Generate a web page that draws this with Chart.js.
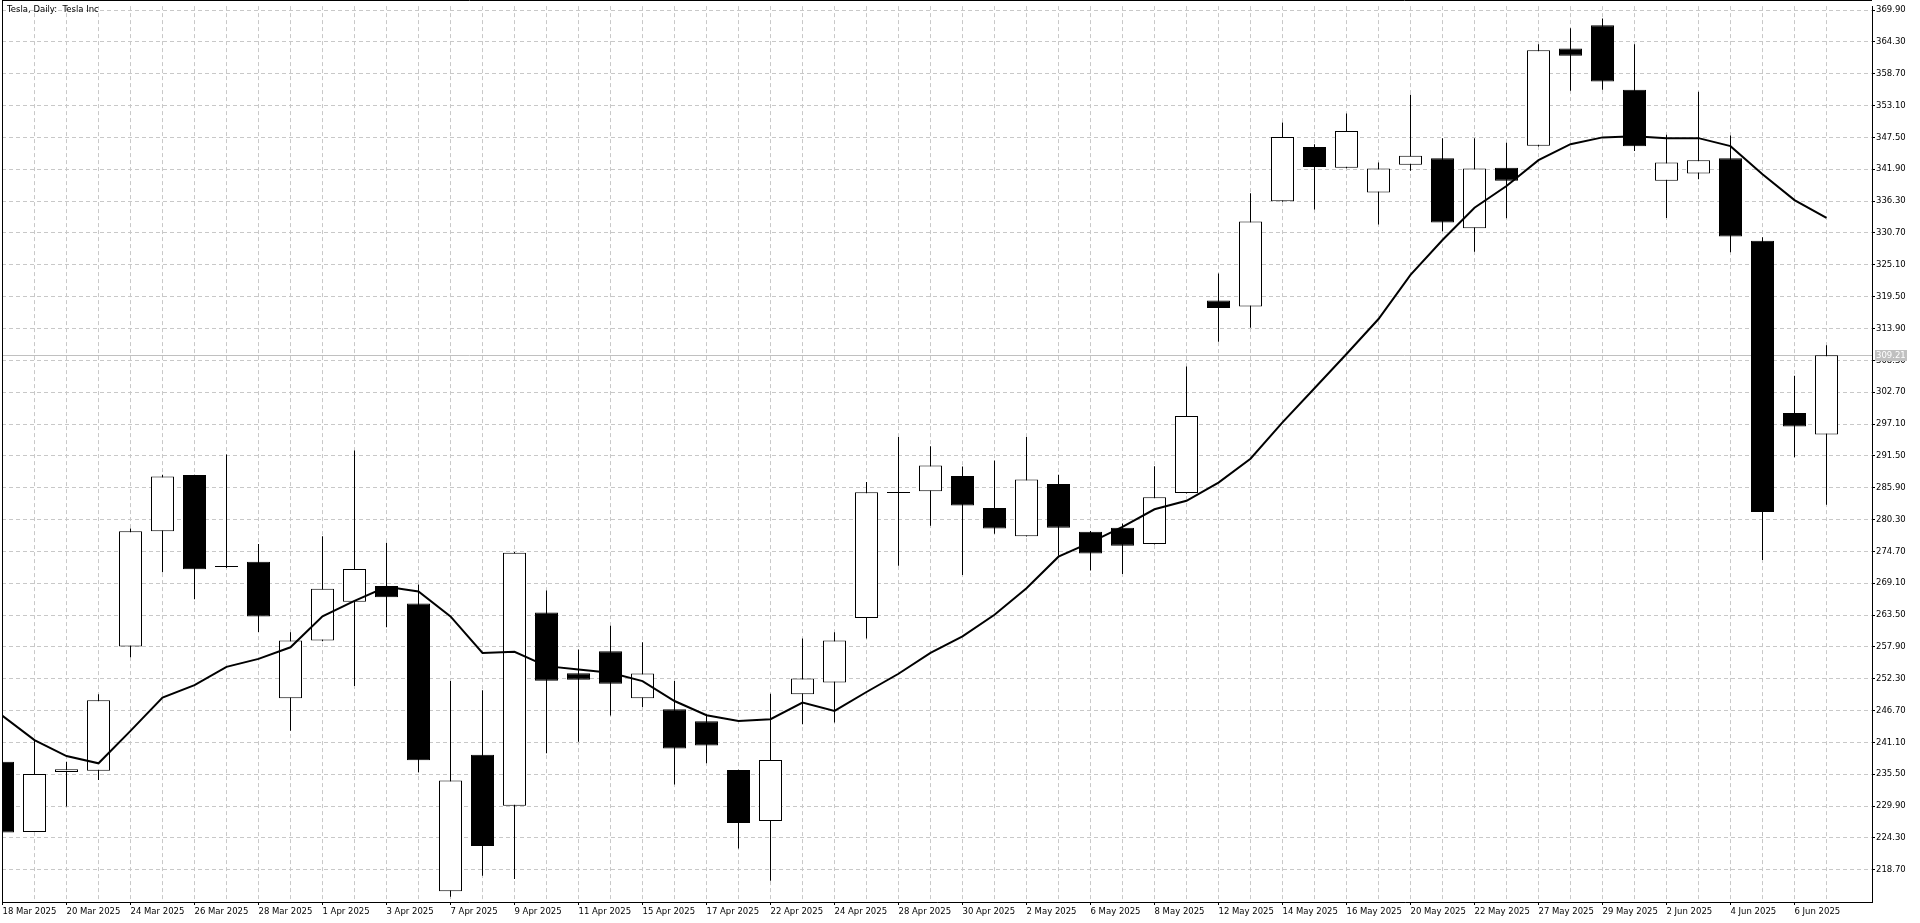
<!DOCTYPE html>
<html>
<head>
<meta charset="utf-8">
<script src="https://cdn.jsdelivr.net/npm/chart.js@4.4.1/dist/chart.umd.min.js"></script>
<style>
html,body{margin:0;padding:0;background:#fff;overflow:hidden}
canvas{display:block}
</style>
</head>
<body>
<canvas id="c" width="1920" height="923"></canvas>
<script>
const chartTitle = 'Tesla, Daily:  Tesla Inc';

const dates = [
  '18 Mar 2025','19 Mar 2025','20 Mar 2025','21 Mar 2025','24 Mar 2025','25 Mar 2025','26 Mar 2025','27 Mar 2025','28 Mar 2025','31 Mar 2025',
  '1 Apr 2025','2 Apr 2025','3 Apr 2025','4 Apr 2025','7 Apr 2025','8 Apr 2025','9 Apr 2025','10 Apr 2025','11 Apr 2025','14 Apr 2025',
  '15 Apr 2025','16 Apr 2025','17 Apr 2025','21 Apr 2025','22 Apr 2025','23 Apr 2025','24 Apr 2025','25 Apr 2025','28 Apr 2025','29 Apr 2025',
  '30 Apr 2025','1 May 2025','2 May 2025','5 May 2025','6 May 2025','7 May 2025','8 May 2025','9 May 2025','12 May 2025','13 May 2025',
  '14 May 2025','15 May 2025','16 May 2025','19 May 2025','20 May 2025','21 May 2025','22 May 2025','23 May 2025','27 May 2025','28 May 2025',
  '29 May 2025','30 May 2025','2 Jun 2025','3 Jun 2025','4 Jun 2025','5 Jun 2025','6 Jun 2025','9 Jun 2025'
];

const openP = [
  237.70,225.35,235.90,236.14,257.96,278.26,288.12,271.96,272.89,248.86,
  259.01,265.83,268.63,265.54,214.91,238.94,229.96,263.97,253.29,257.14,
  248.86,246.94,244.83,236.26,227.28,249.56,251.66,262.98,284.97,285.26,
  287.94,282.34,277.38,286.54,278.14,278.84,275.98,284.97,318.84,317.77,
  336.29,345.84,342.17,337.82,342.70,343.84,331.54,342.17,346.04,363.15,
  367.23,355.87,339.89,341.16,343.84,329.33,299.06,295.25
];
const highP = [
  238.50,241.48,237.70,249.56,278.73,288.18,288.20,291.73,275.98,260.47,
  277.38,292.43,276.22,268.87,251.89,250.26,274.60,267.82,257.43,261.63,
  258.72,251.89,246.06,236.30,249.68,259.36,260.47,286.89,294.83,293.19,
  289.63,290.68,294.83,288.18,278.30,279.60,289.69,307.20,323.59,337.69,
  350.12,346.31,351.72,343.10,355.00,347.38,347.38,346.58,363.89,366.69,
  368.43,363.89,347.98,355.53,347.85,329.94,305.61,310.96
];
const lowP = [
  224.50,225.35,229.85,234.51,256.09,271.03,266.30,271.80,260.53,243.14,
  258.90,251.02,261.34,235.85,213.98,217.65,217.07,239.18,241.22,245.83,
  247.34,233.70,237.43,222.43,216.78,244.31,244.60,259.36,272.19,279.19,
  270.56,277.79,277.30,273.94,271.32,270.73,275.90,284.90,311.56,314.03,
  336.20,334.82,342.10,332.21,341.63,331.01,327.40,333.28,345.90,355.73,
  355.87,345.11,333.35,340.16,327.33,273.20,291.24,282.89
];
const closeP = [
  225.25,235.56,236.40,248.51,278.26,287.88,271.55,271.96,263.27,259.01,
  268.11,271.61,266.65,237.95,234.39,222.90,274.47,251.95,252.13,251.43,
  253.24,240.05,240.57,226.93,238.01,252.35,259.01,285.08,284.97,289.81,
  282.75,278.73,287.36,278.84,274.35,275.69,284.21,298.53,317.51,332.74,
  347.58,342.30,348.65,342.03,344.30,332.54,342.03,339.90,362.82,361.88,
  357.34,345.97,343.10,343.50,330.07,281.62,296.66,309.21
];
const maLine = [
  245.77,241.51,238.71,237.43,243.14,248.98,251.19,254.40,255.80,257.84,
  263.27,266.01,268.46,267.64,263.27,256.85,257.03,254.52,253.93,253.35,
  251.89,248.39,245.88,244.89,245.18,248.10,246.64,249.97,253.18,256.85,
  259.77,263.56,268.23,273.77,276.28,279.02,282.11,283.60,286.80,291.00,
  297.39,303.40,309.42,315.57,323.32,329.47,335.15,338.96,343.50,346.31,
  347.51,347.71,347.38,347.38,345.97,341.03,336.49,333.34
];
const yTicks = [
  218.70,224.30,229.90,235.50,241.10,246.70,252.30,257.90,263.50,269.10,
  274.70,280.30,285.90,291.50,297.10,302.70,308.30,313.90,319.50,325.10,
  330.70,336.30,341.90,347.50,353.10,358.70,364.30,369.90
];
const lastPrice = 309.21;

const FONT = 'DejaVu Sans';
const FSIZE = 8.5;

const wickData = dates.map((d, i) => ({x: i, y: [lowP[i], highP[i]]}));
const bodyData = dates.map((d, i) => ({x: i, y: [openP[i], closeP[i]]}));
const bodyColors = dates.map((d, i) => closeP[i] >= openP[i] ? '#ffffff' : '#000000');
const maData = dates.map((d, i) => ({x: i, y: maLine[i]}));

const decor = {
  id: 'decor',
  beforeDatasetsDraw(chart) {
    const {ctx, chartArea, scales} = chart;
    const py = Math.round(scales.y.getPixelForValue(lastPrice)) + 0.5;
    ctx.save();
    ctx.strokeStyle = '#c0c0c0';
    ctx.lineWidth = 1;
    ctx.beginPath();
    ctx.moveTo(chartArea.left, py);
    ctx.lineTo(chartArea.right, py);
    ctx.stroke();
    ctx.restore();
  },
  afterDraw(chart) {
    const {ctx, chartArea, scales} = chart;
    ctx.save();
    ctx.strokeStyle = '#000';
    ctx.lineWidth = 1;
    ctx.beginPath();
    ctx.moveTo(2.5, 0);
    ctx.lineTo(2.5, chartArea.bottom);
    ctx.moveTo(2, 0.5);
    ctx.lineTo(chartArea.right, 0.5);
    ctx.stroke();
    ctx.fillStyle = '#000';
    ctx.font = FSIZE + 'px "' + FONT + '"';
    ctx.textBaseline = 'middle';
    ctx.textAlign = 'left';
    ctx.fillText(chartTitle, 7, 10);
    const py = Math.round(scales.y.getPixelForValue(lastPrice));
    ctx.fillStyle = '#c0c0c0';
    ctx.fillRect(chartArea.right + 3, py - 5, 32, 11);
    ctx.fillStyle = '#ffffff';
    ctx.fillText(lastPrice.toFixed(2), chartArea.right + 4, py + 0.5);
    ctx.restore();
  }
};

new Chart(document.getElementById('c'), {
  type: 'bar',
  data: {
    datasets: [
      {
        type: 'line', label: 'MA', data: maData, order: 0,
        borderColor: '#000', borderWidth: 2, pointRadius: 0, tension: 0, fill: false
      },
      {
        type: 'bar', label: 'body', data: bodyData, order: 1, grouped: false,
        barThickness: 23, backgroundColor: bodyColors, borderColor: '#000',
        borderWidth: 1, borderSkipped: false, minBarLength: 1, inflateAmount: 0
      },
      {
        type: 'bar', label: 'wick', data: wickData, order: 2, grouped: false,
        barThickness: 1, backgroundColor: '#000', borderWidth: 0, inflateAmount: 0
      }
    ]
  },
  plugins: [decor],
  options: {
    responsive: false,
    devicePixelRatio: 1,
    animation: false,
    events: [],
    layout: {padding: {left: 2, top: 1, right: 0, bottom: 0}},
    plugins: {legend: {display: false}, tooltip: {enabled: false}, title: {display: false}},
    scales: {
      x: {
        type: 'linear', offset: false,
        min: -0.015625, max: 58.421875,
        afterBuildTicks: s => { s.ticks = dates.map((d, i) => ({value: i})); },
        afterFit: s => { s.height = 21; },
        ticks: {
          autoSkip: false, maxRotation: 0, minRotation: 0, align: 'start', padding: 2,
          color: '#000', font: {family: FONT, size: FSIZE},
          callback: (v) => (v % 2 === 0 ? dates[v] : '')
        },
        grid: {
          offset: false, color: '#c8c8c8', lineWidth: 1, drawTicks: true, tickLength: 3,
          tickColor: (c) => (c.index % 2 === 0 ? '#000' : 'rgba(0,0,0,0)')
        },
        border: {display: true, color: '#000', width: 1, dash: [4, 3]}
      },
      y: {
        type: 'linear', position: 'right',
        min: 213.04, max: 370.6,
        afterBuildTicks: s => { s.ticks = yTicks.map(v => ({value: v})); },
        afterFit: s => { s.width = 48; },
        ticks: {
          autoSkip: false, padding: 1, color: '#000',
          font: {family: FONT, size: FSIZE},
          callback: (v) => Number(v).toFixed(2)
        },
        grid: {color: '#c8c8c8', lineWidth: 1, drawTicks: true, tickLength: 3, tickColor: '#000'},
        border: {display: true, color: '#000', width: 1, dash: [4, 3]}
      }
    }
  }
});
</script>
</body>
</html>
